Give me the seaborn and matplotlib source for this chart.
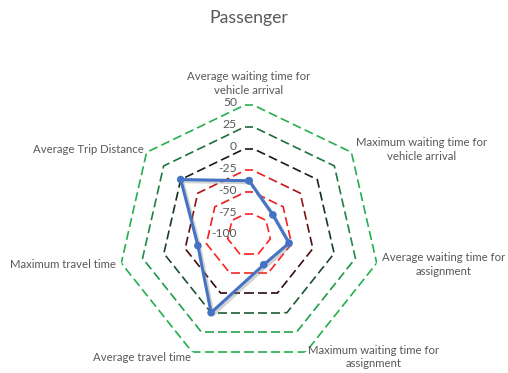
import numpy as np
import pandas as pd
import matplotlib
matplotlib.use("Agg")
import matplotlib.pyplot as plt
import matplotlib.patheffects as pe
from matplotlib.collections import LineCollection
from matplotlib.colors import LinearSegmentedColormap
import seaborn as sns

# ---- data -------------------------------------------------------------
title = "Passenger"
categories = [
    "Average waiting time for\nvehicle arrival",
    "Maximum waiting time for\nvehicle arrival",
    "Average waiting time for\nassignment",
    "Maximum waiting time for\nassignment",
    "Average travel time",
    "Maximum travel time",
    "Average Trip Distance",
]
values = [-39, -65, -53, -61, 0, -40, 0]
tick_values = [-100, -75, -50, -25, 0, 25, 50]
ring_levels = [-75, -50, -25, 0, 25, 50]

# gradient stops (top of ring -> bottom of ring) for each grid ring
ring_stops = {
    -75: [(0.0, "#ff2020"), (1.0, "#ff2020")],
    -50: [(0.0, "#e81c1c"), (1.0, "#ff2424")],
    -25: [(0.0, "#ff2020"), (0.2, "#a01616"), (0.55, "#561010"), (1.0, "#2a0a0a")],
    0: [(0.0, "#161616"), (0.5, "#173d27"), (1.0, "#1c5e36")],
    25: [(0.0, "#1c6a3a"), (0.5, "#1e8844"), (1.0, "#20a64b")],
    50: [(0.0, "#26b052"), (1.0, "#22b04c")],
}

# ---- style ------------------------------------------------------------
sns.set_theme(style="white")
plt.rcParams["font.family"] = ["Lato", "DejaVu Sans"]
text_color = "#595959"
line_color = "#4472C4"

r_min, r_max = tick_values[0], tick_values[-1]
n = len(categories)
angles = np.arange(n) * 2 * np.pi / n

fig = plt.figure(figsize=(5.08, 3.73), dpi=100)
ax = fig.add_axes([118 / 508, 8 / 373, 262 / 508, 262 / 373], projection="polar")
ax.set_theta_zero_location("N")
ax.set_theta_direction(-1)
ax.set_ylim(r_min, r_max)
ax.set_xticks([])
ax.set_yticks([])
ax.grid(False)
ax.spines["polar"].set_visible(False)
ax.patch.set_alpha(0)
fig.canvas.draw()

# pixels per data unit along the radius
p0 = ax.transData.transform((0, r_min))
p1 = ax.transData.transform((0, r_max))
px_per_unit = np.hypot(*(p1 - p0)) / (r_max - r_min)

dash_px, gap_px = 9.0, 4.2


def ring_dashes(level):
    """Split a polygon ring into dash segments expressed in (theta, r)."""
    rho = level - r_min
    vx = rho * np.sin(angles)
    vy = rho * np.cos(angles)
    vx = np.append(vx, vx[0])
    vy = np.append(vy, vy[0])
    seg_len = np.hypot(np.diff(vx), np.diff(vy))
    cum = np.concatenate([[0], np.cumsum(seg_len)])
    total = cum[-1]
    dash = dash_px / px_per_unit
    gap = gap_px / px_per_unit
    period = dash + gap
    count = max(1, int(round(total / period)))
    scale = total / (count * period)
    dash *= scale
    period *= scale

    def at(s):
        s = s % total
        i = min(np.searchsorted(cum, s, side="right") - 1, n - 1)
        f = (s - cum[i]) / seg_len[i]
        return vx[i] + f * (vx[i + 1] - vx[i]), vy[i] + f * (vy[i + 1] - vy[i])

    segs, mids = [], []
    for k in range(count):
        s0 = k * period - dash / 2
        s1 = s0 + dash
        # include vertices so dashes bend around corners
        pts_s = [s0]
        for c in cum[1:-1]:
            for shift in (0, total, -total):
                if s0 < c + shift < s1:
                    pts_s.append(c + shift)
        pts_s.append(s1)
        pts_s.sort()
        xy = [at(s) for s in pts_s]
        seg = [(np.arctan2(x, y), np.hypot(x, y) + r_min) for x, y in xy]
        segs.append(seg)
        mids.append(at((s0 + s1) / 2)[1])
    top, bottom = rho, -rho * np.cos(np.pi / n)
    t = (top - np.array(mids)) / (top - bottom)
    return segs, np.clip(t, 0, 1)


for level in ring_levels:
    segs, t = ring_dashes(level)
    cmap = LinearSegmentedColormap.from_list(f"ring{level}", ring_stops[level])
    lc = LineCollection(segs, colors=cmap(t), linewidths=1.2,
                        transform=ax.transData, capstyle="butt", joinstyle="miter")
    ax.add_collection(lc)

# ---- data series --------------------------------------------------------
df = pd.DataFrame({
    "theta": np.append(angles, 2 * np.pi),
    "value": values + values[:1],
})
sns.lineplot(data=df, x="theta", y="value", sort=False, ax=ax,
             color=line_color, linewidth=2.2, marker="o", markersize=5.5,
             markeredgewidth=0, estimator=None,
             path_effects=[pe.SimpleLineShadow(offset=(1.5, -1.5), shadow_color="#7f7f7f",
                                               alpha=0.35, rho=1),
                           pe.Normal()])
ax.set_xlabel("")
ax.set_ylabel("")
ax.set_ylim(r_min, r_max)

# ---- value labels along the first spoke ---------------------------------
for v in tick_values:
    ax.annotate(str(v), xy=(0, v), xytext=(-12, 0), textcoords="offset pixels",
                ha="right", va="center", fontsize=8.7, color=text_color,
                annotation_clip=False)

# ---- category labels ----------------------------------------------------
label_layout = [
    dict(ha="center", va="bottom", off=(0, 7)),
    dict(ha="left", va="center", off=(5, 3)),
    dict(ha="left", va="center", off=(5, -1)),
    dict(ha="left", va="center", off=(2, -5)),
    dict(ha="right", va="center", off=(-1, -5)),
    dict(ha="right", va="center", off=(-5, -1)),
    dict(ha="right", va="center", off=(-3, 3)),
]
for ang, name, lay in zip(angles, categories, label_layout):
    ax.annotate(name, xy=(ang, r_max), xytext=lay["off"], textcoords="offset pixels",
                ha=lay["ha"], va=lay["va"], multialignment="center",
                fontsize=8.2, color=text_color, annotation_clip=False,
                linespacing=1.3)

fig.text(249 / 508, 1 - 18 / 373, title, ha="center", va="center",
         fontsize=12.7, color=text_color)

fig.savefig("out.png", dpi=100, facecolor="white")
